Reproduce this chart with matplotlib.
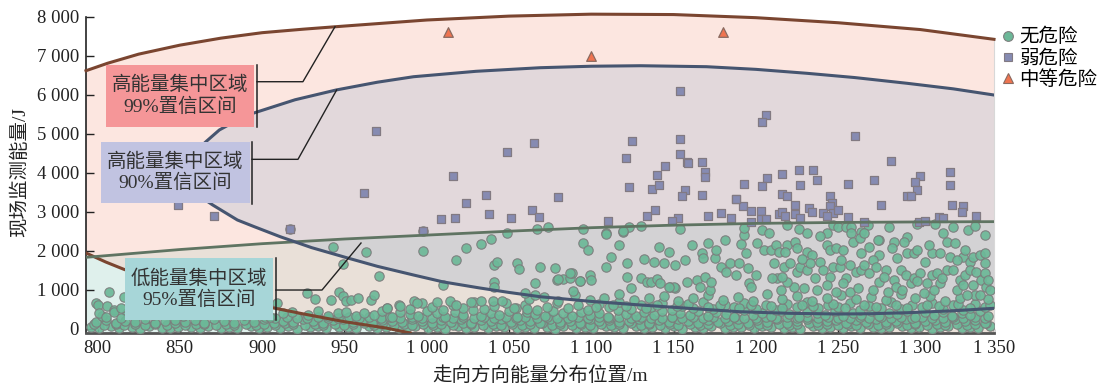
import numpy as np
import matplotlib
matplotlib.use("Agg")
import matplotlib.pyplot as plt
from matplotlib.patches import Polygon, Rectangle
from matplotlib.lines import Line2D

plt.rcParams['font.family'] = ['Liberation Serif', 'Noto Sans CJK SC']

# ---- confidence region boundaries ----
brown_up_x = [793, 806, 825, 850, 875, 900, 925, 950, 1000, 1050, 1100, 1150, 1200, 1250, 1300, 1344.7]
brown_up_y = [6615, 6805, 7040, 7270, 7450, 7590, 7680, 7760, 7915, 8015, 8065, 8055, 7975, 7845, 7670, 7420]
brown_lo_x = [793, 805, 816, 830, 850, 875, 900, 925, 950, 975, 990]
brown_lo_y = [1941, 1710, 1523, 1320, 1080, 830, 590, 380, 180, 20, -110]

green_x = [793, 850, 900, 950, 1000, 1050, 1100, 1150, 1200, 1250, 1300, 1344.7]
green_y = [1830, 2030, 2180, 2300, 2400, 2500, 2590, 2655, 2700, 2725, 2738, 2745]

blue_up_x = [853, 856, 860, 866, 874, 885, 895, 920, 945, 970, 992, 1030, 1069, 1100, 1130, 1170, 1200, 1231, 1260, 1292, 1320, 1344.7]
blue_up_y = [3950, 4300, 4560, 4800, 5095, 5350, 5531, 5870, 6121, 6320, 6461, 6600, 6692, 6730, 6743, 6718, 6650, 6549, 6440, 6292, 6150, 5992]
blue_lo_x = [853, 856, 862, 870, 885, 895, 911, 930, 952, 970, 992, 1010, 1032, 1050, 1069, 1100, 1130, 1160, 1190, 1220, 1251, 1270, 1292, 1320, 1344.7]
blue_lo_y = [3950, 3600, 3400, 3172, 2787, 2620, 2359, 2080, 1813, 1600, 1377, 1200, 1046, 930, 820, 700, 608, 520, 436, 395, 377, 385, 410, 460, 523]

# ---- points ----
moderate = [(1013, 7600), (1100, 7000), (1180, 7600)]

weak = [(1154,6087),(1206,5479),(1204,5292),(1065,4774),(1049,4531),(1125,4805),(1154,4864),(1154,4472),(1121,4384),
        (1167,4282),(1158,4274),(1159,4241),(1145,4164),(1016,3915),(1140,3933),(1169,4026),(1169,3882),(1207,3872),
        (1036,3428),(1080,3377),(1123,3646),(1137,3590),(1141,3672),(1157,3556),(1155,3410),(1167,3428),(1193,3703),
        (1204,3659),(1188,3338),(969,5077),(962,3487),(1024,3223),(1038,2949),(1064,3056),(1068,2872),(1009,2820),
        (1017,2846),(1051,2838),(871,2892),(849,3172),(917,2549),(998,2505),(1260,4941),(1282,4308),(1216,3979),
        (1226,4069),(1235,4082),(1237,3808),(1318,4010),(1300,3915),(1297,3754),(1272,3805),(1256,3718),(1227,3692),
        (1318,3677),(1298,3569),(1292,3410),(1294,3410),(1216,3466),(1219,3415),(1245,3402),(1246,3236),(1245,3146),
        (1224,3172),(1192,3154),(1276,3164),(1319,3164),(1326,3154),(1325,2992),(1232,3087),(1234,3000),(1139,3036),
        (1197,3018),(1203,3026),(1179,2974),(1214,2949),(1216,2985),(1218,2890),(1224,2949),(1227,2851),(1241,2959),
        (1247,2959),(1250,3031),(1256,2877),(1134,2897),(1153,2851),(1171,2897),(1185,2846),(1334,2897),(1311,2872),
        (1314,2826),(1197,2743),(1203,2805),(1206,2820),(1243,2897),(1266,2743),(1299,2743),(1303,2769),(1110,2769),
        (1149,2769),(1188,3326)]

safe_left = [(799,651),(800,608),(801,395),(805,308),(806,582),(807,949),(810,480),(810,436),(814,523),(814,282),
             (816,820),(909,651),(913,395),(927,907),(932,754),(942,736),(947,949),(949,838),(951,710),(954,736),
             (958,800),(966,736),(968,864),(971,1351),(976,523),(984,582),(943,2087),(949,1659),(963,1975),(998,2513),
             (998,1992),(1010,1120),(1018,1761),(1024,2077),(1033,2172),(1039,2292),(1049,2462),(1041,1633),(1043,1718),
             (1041,1205),(1041,1077),(1055,1692),(1056,1523),(1067,2549),(1066,1164),(1060,923),(1066,864),(1006,692),
             (1014,710),(1018,608),(1027,692),(1033,718),(1040,718),(1046,710),(1053,523),(1061,513),(992,710),(994,651),
             (917,2549)]

safe_right = [(1219,2659),(1226,2548),(1231,2445),(1243,2445),(1247,2659),(1250,2616),(1255,2599),(1258,2599),(1264,2488),
              (1268,2659),(1275,2274),(1281,2616),(1292,2360),(1298,2684),(1309,2684),(1314,2445),(1320,2616),(1329,2530),
              (1333,2633),(1339,2402),(1219,2146),(1224,2231),(1225,2060),(1231,1975),(1234,1889),(1239,2377),(1243,2146),
              (1245,2018),(1249,2060),(1253,2018),(1258,2445),(1259,2231),(1263,2317),(1264,1932),(1266,2445),(1269,2103),
              (1274,2274),(1275,1889),(1284,2231),(1290,2231),(1292,1932),(1296,1932),(1298,2018),(1307,1932),(1312,1932),
              (1316,2231),(1321,2189),(1318,1847),(1326,1847),(1330,1718),(1332,1847),(1336,1889),(1339,1932),(1339,1676),
              (1211,1676),(1217,1590),(1221,1676),(1225,1462),(1227,1590),(1231,1505),(1233,1676),(1239,1718),(1241,1505),
              (1245,1334),(1247,1590),(1251,1590),(1255,1291),(1257,1633),(1261,1462),(1264,1505),(1266,1633),(1269,1419),
              (1271,1761),(1273,1590),(1275,1205),(1279,1505),(1284,1248),(1285,1077),(1288,1505),(1291,1376),(1294,1163),
              (1296,1291),(1300,1419),(1304,1163),(1307,1376),(1310,1419),(1312,1163),(1316,1505),(1320,1505),(1324,1248),
              (1327,1376),(1330,1505),(1332,1120),(1334,1462),(1337,1248),(1340,1077),(1339,1419),(1342,992),
              (1223,1077),(1229,1034),(1237,992),(1243,1120),(1249,949),(1257,949),(1271,992),(1280,949),(1289,992),
              (1302,906),(1308,992),(1322,992),(1328,863),(1336,863),(1213,1291),(1219,1205),(1215,992),
              (1069,1590),(1078,1547),(1079,1248),(1083,1265),(1087,1291),(1088,1419),(1093,1222),(1095,2189),(1098,2018),
              (1099,1376),(1100,1248),(1109,2445),(1109,1590),(1112,1847),(1117,2146),(1119,2488),(1122,1676),(1122,1316),
              (1123,2616),(1124,1034),(1130,1291),(1132,1778),(1134,1205),(1136,1205),(1138,1718),(1140,1265),(1141,2103),
              (1142,1163),(1144,1676),(1147,1975),(1148,1077),(1151,1633),(1151,1034),(1154,2548),(1157,1761),(1158,1205),
              (1161,2146),(1164,1248),(1167,1932),(1168,1804),(1169,1334),(1171,2189),(1172,992),(1175,1804),(1176,2018),
              (1179,1590),(1181,2274),(1182,1462),(1184,1676),(1188,1376),(1190,1676),(1191,2171),(1193,2402),(1193,2573),
              (1194,1932),(1195,1547),(1196,1163),(1200,1376),(1201,2189),(1204,2530),(1205,2018),(1208,2445),(1209,2018),
              (1210,1291),(1212,2146),(1214,1975),(1216,1334),(1218,1975),
              (1074,2600),(1080,1267),(1087,1436),(1093,1231),(1095,2549),(1089,967),(1109,2428),(1119,2505),(1130,2641),
              (1150,1062),(1147,1077),(1166,1077),(1197,1062),(1173,1205),
              (1236,1290),(1253,1180),(1262,1040),(1278,1330),(1298,1230),(1313,1290),(1326,1120),(1341,1250),
              (1228,1800),(1252,1760),(1286,1820),(1303,1700),(1322,1760),(1283,2060),(1305,2150),(1327,2020)]

safe_band_a = [(796,35),(801,10),(808,60),(813,25),(821,45),(826,5),(831,70),(839,30),(844,15),(849,55),(857,40),(862,20),
               (867,65),(875,10),(880,50),(885,30),(893,75),(898,15),(903,45),(911,25),(916,60),(921,5),(929,40),(934,70),
               (939,20),(947,50),(952,35),(957,10),(965,65),(970,30),(975,55),(983,15),(988,45),(993,75),(1001,20),(1006,40),
               (1011,5),(1019,60),(1024,30),(1029,50),(1037,15),(1042,70),(1047,35),(1055,10),(1060,55),(1065,25),(1073,45),
               (1078,5),(1083,65),(1091,30),(1096,50),(1101,15),(1109,75),(1114,40),(1119,20),(1127,60),(1132,10),(1137,45),
               (1145,30),(1150,70),(1155,5),(1163,50),(1168,25),(1173,65),(1181,15),(1186,40),(1191,55),(1199,10),(1204,70),
               (1209,35),(1217,20),(1222,50),(1227,5),(1235,60),(1240,30),(1245,45),(1253,15),(1258,75),(1263,25),(1271,55),
               (1276,10),(1281,40),(1289,65),(1294,20),(1299,50),(1307,5),(1312,35),(1317,70),(1325,15),(1330,45),(1335,25),
               (1342,60)]

safe_band_f = [(798,110),(804,95),(811,130),(816,100),(823,120),(829,90),(835,125),(842,105),(847,135),(853,95),(860,115),
               (865,130),(872,100),(878,120),(883,90),(890,130),(896,105),(901,120),(908,95),(914,135),(919,110),(926,90),
               (932,125),(937,100),(944,130),(950,95),(955,115),(962,135),(968,100),(973,120),(980,90),(986,125),(991,105),
               (998,130),(1004,95),(1009,120),(1016,100),(1022,135),(1027,110),(1034,90),(1040,125),(1045,105),(1052,130),
               (1058,95),(1063,115),(1070,135),(1076,100),(1081,120),(1088,90),(1094,125),(1099,105),(1106,130),(1112,95),
               (1117,115),(1124,135),(1130,100),(1135,120),(1142,90),(1148,125),(1153,105),(1160,130),(1166,95),(1171,115),
               (1178,135),(1184,100),(1189,120),(1196,90),(1202,125),(1207,105),(1214,130),(1220,95),(1225,115),(1232,135),
               (1238,100),(1243,120),(1250,90),(1256,125),(1261,105),(1268,130),(1274,95),(1279,115),(1286,135),(1292,100),
               (1297,120),(1304,90),(1310,125),(1315,105),(1322,130),(1328,95),(1333,115),(1340,135)]

safe_band_b = [(799,180),(805,230),(811,150),(817,210),(823,170),(829,250),(835,140),(841,200),(847,235),(853,160),(859,215),
               (865,145),(871,245),(877,190),(883,155),(889,225),(895,175),(901,250),(907,140),(913,205),(919,165),(925,240),
               (931,185),(937,150),(943,220),(949,260),(955,170),(961,210),(967,145),(973,235),(979,190),(985,160),(991,255),
               (997,200),(1003,150),(1009,230),(1015,175),(1021,245),(1027,140),(1033,215),(1039,185),(1045,255),(1051,160),
               (1057,225),(1063,195),(1069,145),(1075,240),(1081,170),(1087,210),(1093,150),(1099,250),(1105,185),(1111,225),
               (1117,160),(1123,200),(1129,245),(1135,140),(1141,215),(1147,175),(1153,255),(1159,190),(1165,150),(1171,230),
               (1177,170),(1183,210),(1189,260),(1195,145),(1201,220),(1207,180),(1213,240),(1219,155),(1225,205),(1231,250),
               (1237,165),(1243,195),(1249,230),(1255,145),(1261,215),(1267,175),(1273,255),(1279,160),(1285,210),(1291,240),
               (1297,150),(1303,195),(1309,235),(1315,170),(1321,250),(1327,185),(1333,220),(1339,155)]

safe_band_g = [(902,290),(908,270),(915,300),(921,280),(927,265),(934,305),(940,285),(946,270),(953,300),(959,280),(965,310),
               (972,275),(978,295),(984,265),(991,305),(997,285),(1003,270),(1010,300),(1016,280),(1022,310),(1029,270),
               (1035,295),(1041,280),(1048,305),(1054,265),(1060,290),(1067,275),(1073,310),(1079,285),(1086,270),(1092,300),
               (1098,280),(1105,305),(1111,265),(1117,290),(1124,275),(1130,310),(1136,285),(1143,270),(1149,300),(1155,280),
               (1162,305),(1168,265),(1174,290),(1181,275),(1187,310),(1193,285),(1200,270),(1206,300),(1212,280),(1219,305),
               (1225,265),(1231,290),(1238,275),(1244,310),(1250,285),(1257,270),(1263,300),(1269,280),(1276,305),(1282,265),
               (1288,290),(1295,275),(1301,310),(1307,285),(1314,270),(1320,300),(1326,280),(1333,305),(1339,265)]

safe_band_c = [(803,330),(818,400),(834,350),(852,320),(870,380),(889,340),(905,310),(918,420),(928,360),(934,450),(940,320),
               (946,390),(951,440),(957,330),(962,410),(968,360),(973,460),(979,310),(984,420),(990,370),(995,330),(1000,450),
               (1006,390),(1011,310),(1017,430),(1022,360),(1028,470),(1033,330),(1039,400),(1044,350),(1050,450),(1055,310),
               (1061,420),(1066,370),(1072,330),(1077,460),(1083,390),(1088,320),(1094,440),(1099,360),(1105,410),(1110,310),
               (1116,470),(1121,380),(1127,330),(1132,430),(1138,350),(1143,460),(1149,310),(1154,400),(1160,360),(1165,450),
               (1171,330),(1176,420),(1182,380),(1187,310),(1193,470),(1198,350),(1204,410),(1209,330),(1215,450),(1220,370),
               (1226,310),(1231,430),(1237,390),(1242,340),(1248,460),(1253,320),(1259,410),(1264,360),(1270,450),(1275,330),
               (1281,400),(1286,370),(1292,460),(1297,310),(1303,420),(1308,350),(1314,440),(1319,330),(1325,400),(1330,360),
               (1336,450),(1341,320)]

safe_band_d = [(976,520),(983,600),(990,500),(997,650),(1003,560),(1010,490),(1016,620),(1022,540),(1029,680),(1035,500),
               (1041,590),(1048,650),(1054,520),(1060,610),(1067,490),(1073,560),(1079,660),(1086,520),(1092,600),(1098,480),
               (1105,640),(1111,550),(1117,690),(1124,510),(1130,600),(1136,560),(1143,660),(1149,490),(1155,590),(1162,530),
               (1168,680),(1174,500),(1181,620),(1187,560),(1193,650),(1200,510),(1206,600),(1212,480),(1219,640),(1225,550),
               (1231,690),(1238,520),(1244,600),(1250,560),(1257,660),(1263,490),(1269,590),(1276,540),(1282,680),(1288,500),
               (1295,620),(1301,560),(1307,650),(1314,510),(1320,600),(1326,480),(1333,640),(1339,550)]

safe_band_h = [(1103,560),(1113,620),(1121,590),(1133,540),(1140,610),(1152,570),(1159,630),(1171,560),(1178,600),(1190,540),
               (1197,620),(1209,580),(1216,530),(1228,610),(1235,570),(1247,640),(1254,520),(1266,600),(1273,560),(1285,620),
               (1292,540),(1304,600),(1311,570),(1323,630),(1330,520),(1342,610)]

safe_band_e = [(1062,760),(1071,820),(1080,720),(1090,860),(1099,740),(1108,800),(1117,880),(1126,730),(1135,790),(1144,850),
               (1153,710),(1162,780),(1171,870),(1180,740),(1189,820),(1198,720),(1207,890),(1216,770),(1225,840),(1234,710),
               (1243,800),(1252,870),(1261,750),(1270,820),(1279,730),(1288,880),(1297,780),(1306,840),(1315,720),(1324,800),
               (1333,870),(1341,760)]

x_ticks = [800, 850, 900, 950, 1000, 1050, 1100, 1150, 1200, 1250, 1300, 1344.7]
x_ticklabels = ['800', '850', '900', '950', '1 000', '1 050', '1 100', '1 150', '1 200', '1 250', '1 300', '1 350']
y_ticks = [0, 1000, 2000, 3000, 4000, 5000, 6000, 7000, 8000]
y_ticklabels = ['0', '1 000', '2 000', '3 000', '4 000', '5 000', '6 000', '7 000', '8 000']
legend_labels = ['无危险', '弱危险', '中等危险']

XMIN, XMAX, YMIN, YMAX = 793, 1344.7, -110, 8000

fig = plt.figure(figsize=(11.04, 3.87), dpi=100)
ax = fig.add_axes([86/1104, 1-333/387, (994-86)/1104, (333-16.7)/387])
ax.set_xlim(XMIN, XMAX)
ax.set_ylim(YMIN, YMAX)

# regions
pink_pts = list(zip(brown_up_x, brown_up_y)) + [(XMAX, YMIN)] + list(zip(brown_lo_x[::-1], brown_lo_y[::-1]))
green_pts = list(zip(green_x, green_y)) + [(XMAX, YMIN), (XMIN, YMIN)]
blue_pts = list(zip(blue_up_x, blue_up_y)) + list(zip(blue_lo_x[::-1], blue_lo_y[::-1]))

pink = Polygon(pink_pts, closed=True, fc='#FCE6E0', ec='none', zorder=1, clip_on=False)
ax.add_patch(pink)
ax.add_patch(Polygon(green_pts, closed=True, fc='#DFF0EC', ec='none', zorder=1.1))
g2 = Polygon(green_pts, closed=True, fc='#E9E0D8', ec='none', zorder=1.2)
ax.add_patch(g2)
g2.set_clip_path(pink)
blue = Polygon(blue_pts, closed=True, fc='#E2D8DB', ec='none', zorder=1.3)
ax.add_patch(blue)
g3 = Polygon(green_pts, closed=True, fc='#D3D2D4', ec='none', zorder=1.4)
ax.add_patch(g3)
g3.set_clip_path(blue)

# scatter
circ_kw = dict(s=46, marker='o', facecolor='#6CB898', edgecolor='#7C7C7C', linewidths=0.8, alpha=0.92, zorder=3)
for grp in [safe_band_a, safe_band_f, safe_band_b, safe_band_g, safe_band_c, safe_band_d, safe_band_h,
            safe_band_e, safe_left, safe_right]:
    arr = np.array(grp)
    ax.scatter(arr[:, 0], arr[:, 1], **circ_kw)
arr = np.array(weak)
ax.scatter(arr[:, 0], arr[:, 1], s=26, marker='s', facecolor='#868BB2', edgecolor='#827A82', linewidths=0.9, zorder=4)
arr = np.array(moderate)
ax.scatter(arr[:, 0], arr[:, 1], s=48, marker='^', facecolor='#EF7450', edgecolor='#8A6A60', linewidths=0.9, zorder=5)

# boundary lines
ax.plot(brown_up_x, brown_up_y, color='#7A4530', lw=2.2, zorder=4.5, clip_on=False)
ax.plot(brown_lo_x, brown_lo_y, color='#7A4530', lw=2.2, zorder=4.5)
ax.plot(green_x, green_y, color='#5F7462', lw=2.0, zorder=4.5)
ax.plot(blue_up_x, blue_up_y, color='#465570', lw=2.2, zorder=4.5)
ax.plot(blue_lo_x, blue_lo_y, color='#465570', lw=2.2, zorder=4.5)

# label boxes with callouts
boxes = [((805.2, 5181), 89.9, 1581, '#F59698', '高能量集中区域\n99%置信区间',
          [(896.9, 6762), (896.9, 5172)], [(896.9, 6333), (924.8, 6333), (944.3, 7743)]),
         ((802.1, 3223), 90.5, 1564, '#C1C3E1', '高能量集中区域\n90%置信区间',
          [(893.9, 4787), (893.9, 3197)], [(893.9, 4343), (921.8, 4343), (945.3, 6121)]),
         ((816.7, 223), 89.9, 1590, '#A7D6D8', '低能量集中区域\n95%置信区间',
          [(908.4, 1813), (908.4, 223)], [(908.4, 992), (936.4, 992), (960.1, 2197)])]
for (x0, y0), w, h, col, txt, vline, cline in boxes:
    ax.add_patch(Rectangle((x0, y0), w, h, fc=col, ec='none', zorder=6))
    ax.text(x0 + w/2, y0 + h/2, txt, ha='center', va='center', fontsize=14, color='#333333',
            linespacing=1.2, zorder=7)
    ax.plot(*zip(*vline), color='#222222', lw=1.1, zorder=7)
    ax.plot(*zip(*cline), color='#222222', lw=1.0, zorder=7)

# axes styling
ax.set_xticks(x_ticks)
ax.set_xticklabels(x_ticklabels)
ax.set_yticks(y_ticks)
ax.set_yticklabels(y_ticklabels)
ax.tick_params(axis='y', direction='in', length=6, width=1, labelsize=13.5, pad=5, colors='#222222')
ax.tick_params(axis='x', direction='in', length=3, width=1, labelsize=13.5, pad=5, colors='#222222')
ax.spines['top'].set_visible(False)
ax.spines['right'].set_color('#D8D8D8')
ax.spines['right'].set_bounds(YMIN, brown_up_y[-1])
ax.spines['left'].set_color('#222222')
ax.spines['left'].set_linewidth(1.2)
ax.spines['bottom'].set_color('#555555')
ax.spines['bottom'].set_linewidth(2)

fig.text(20/1104, 1-172/387, '现场监测能量/J', rotation=90, ha='center', va='center', fontsize=14, color='#222222')
fig.text(540/1104, 1-376/387, '走向方向能量分布位置/m', ha='center', va='center', fontsize=14, color='#222222')

handles = [Line2D([], [], ls='none', marker='o', ms=7, mfc='#6CB898', mec='#7E7E7E', mew=0.8),
           Line2D([], [], ls='none', marker='s', ms=5.5, mfc='#868BB2', mec='#827A82', mew=0.8),
           Line2D([], [], ls='none', marker='^', ms=7, mfc='#EF7450', mec='#8A6A60', mew=0.8)]
fig.legend(handles, legend_labels, loc='upper left', bbox_to_anchor=(1002/1104, 1-28/387), frameon=False,
           fontsize=14, handlelength=0.6, handletextpad=0.3, labelspacing=0.15, borderaxespad=0, borderpad=0)

fig.savefig('out.png', dpi=100)
